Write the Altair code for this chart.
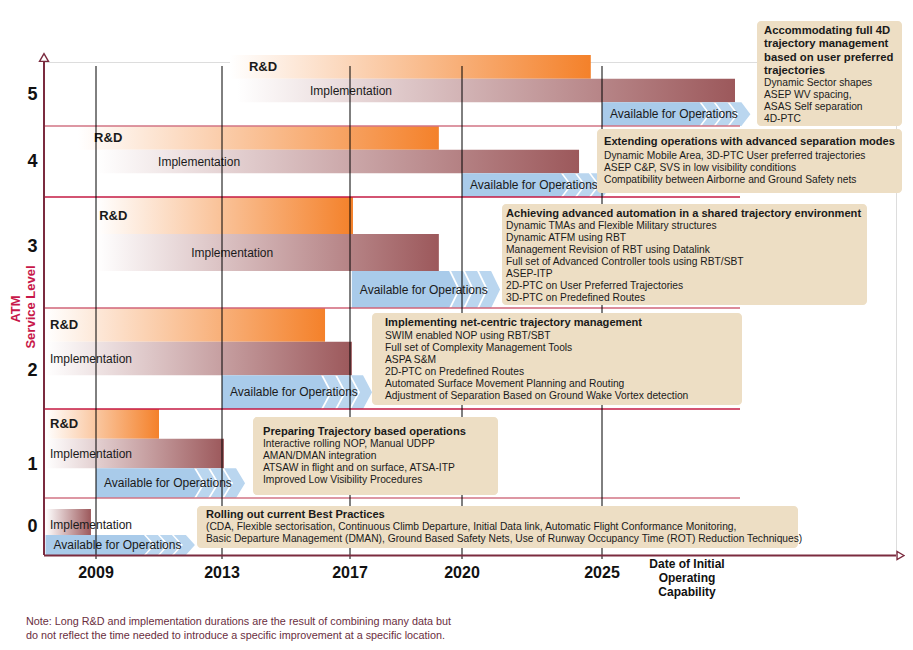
import altair as alt
import pandas as pd
import numpy as np

# ------------------------------------------------------------------ data
years = [2009, 2013, 2017, 2020, 2025]
level_labels = ["0", "1", "2", "3", "4", "5"]
y_label_at = [0, 0.876, 1.876, 3.05, 3.993, 4.937]   # where the level numbers sit

rd_level = [5, 4, 3, 2, 1]
rd_start = [2013.25, 2008.43, 2009.03, 2007.4, 2007.4]
rd_end = [2024.6, 2019.38, 2017.08, 2016.22, 2011.0]
rd_label_at = [2013.84, 2008.94, 2009.1, 2007.54, 2007.54]

impl_level = [5, 4, 3, 2, 1, 0]
impl_start = [2013.47, 2009.03, 2009.03, 2007.4, 2007.4, 2007.4]
impl_end = [2029.75, 2024.18, 2019.38, 2017.05, 2013.06, 2008.84]
impl_label_at = [2015.75, 2010.97, 2012.02, 2007.54, 2007.54, 2007.54]

avail_level = [5, 4, 3, 2, 1, 0]
avail_start = [2025.0, 2020.0, 2017.05, 2013.0, 2009.0, 2007.4]
avail_end = [2030.3, 2025.35, 2021.36, 2017.59, 2013.72, 2012.14]

box_level = [5, 4, 3, 2, 1, 0]
box_title = [
    "Accommodating full 4D\ntrajectory management\nbased on user preferred\ntrajectories",
    "Extending operations with advanced separation modes",
    "Achieving advanced automation in a shared trajectory environment",
    "Implementing net-centric trajectory management",
    "Preparing Trajectory based operations",
    "Rolling out current Best Practices",
]
box_body = [
    "Dynamic Sector shapes\nASEP WV spacing,\nASAS Self separation\n4D-PTC",
    "Dynamic Mobile Area, 3D-PTC User preferred trajectories\nASEP C&P, SVS in low visibility conditions\nCompatibility between Airborne and Ground Safety nets",
    "Dynamic TMAs and Flexible Military structures\nDynamic ATFM using RBT\nManagement Revision of RBT using Datalink\nFull set of Advanced Controller tools using  RBT/SBT\nASEP-ITP\n2D-PTC on User Preferred Trajectories\n3D-PTC on Predefined Routes",
    "SWIM enabled NOP using RBT/SBT\nFull set of Complexity Management Tools\nASPA S&M\n2D-PTC on Predefined Routes\nAutomated Surface Movement Planning and Routing\nAdjustment of Separation Based on Ground Wake Vortex detection",
    "Interactive rolling NOP, Manual UDPP\nAMAN/DMAN integration\nATSAW in flight and on surface, ATSA-ITP\nImproved Low Visibility Procedures",
    "(CDA, Flexible sectorisation, Continuous Climb Departure, Initial Data link, Automatic Flight Conformance Monitoring,\nBasic Departure Management (DMAN), Ground Based Safety Nets, Use of Runway Occupancy Time (ROT) Reduction Techniques)",
]

note_text = ("Note: Long R&D and implementation durations are the result of combining many data but\n"
             "do not reflect the time needed to introduce a specific improvement at a specific location.")

# ------------------------------------------------------------------ layout / scales
PLOT_LEFT, PLOT_TOP = 44, 62          # page position of the plot origin
X_PX = [44, 96, 222, 350, 462, 602, 896]
X_YR = [2007.35, 2009, 2013, 2017, 2020, 2025, 2035.5]
Y_PX = [555, 498, 409, 308, 197, 126, 55]
Y_LV = [-0.5, 0.5, 1.5, 2.5, 3.5, 4.5, 5.5]

W = X_PX[-1] - PLOT_LEFT
H = Y_PX[0] - PLOT_TOP

xs = alt.Scale(domain=X_YR, range=[p - PLOT_LEFT for p in X_PX], nice=False, zero=False)
ys = alt.Scale(domain=Y_LV, range=[p - PLOT_TOP for p in Y_PX], nice=False, zero=False)


def interp_ext(v, xp, fp):
    xp = list(xp); fp = list(fp)
    if xp[0] > xp[-1]:
        xp = xp[::-1]; fp = fp[::-1]
    if v <= xp[0]:
        i = 0
    elif v >= xp[-1]:
        i = len(xp) - 2
    else:
        i = int(np.searchsorted(xp, v)) - 1
    return fp[i] + (v - xp[i]) * (fp[i + 1] - fp[i]) / (xp[i + 1] - xp[i])


def year_at(px):
    return interp_ext(px, X_PX, X_YR)


def level_at(py):
    return interp_ext(py, Y_PX, Y_LV)


def px_of_level(lv):
    return interp_ext(lv, Y_LV, Y_PX)


LANES = {"rd": (0, 1 / 3), "impl": (1 / 3, 2 / 3), "avail": (2 / 3, 1.0)}
LANES0 = {"impl": (0.193, 0.649), "avail": (0.649, 1.0)}


def lanes(levels, kind):
    top, bot = [], []
    for lv in levels:
        f0, f1 = (LANES0 if lv == 0 else LANES)[kind]
        top.append(lv + 0.5 - f0)
        bot.append(lv + 0.5 - f1)
    return top, bot


P, D, G = 14, 9, 2  # chevron pitch / depth / gap in px


def chevron_path(h):
    a = h / 2
    c = P - G
    s = ""
    for k in range(3):
        t = -k * P
        s += (f"M{t-D:.1f},{-a:.1f}L{t:.1f},0L{t-D:.1f},{a:.1f}"
              f"L{t-D-c:.1f},{a:.1f}L{t-c:.1f},0L{t-D-c:.1f},{-a:.1f}Z")
    return s


def bodytip_path(h):
    a = h / 2
    t = -3 * P
    return f"M{t-D-1:.1f},{-a:.1f}L{t-D:.1f},{-a:.1f}L{t:.1f},0L{t-D:.1f},{a:.1f}L{t-D-1:.1f},{a:.1f}Z"


rd_top, rd_bot = lanes(rd_level, "rd")
rd_df = pd.DataFrame(dict(level=rd_level, start=rd_start, end=rd_end, label_at=rd_label_at,
                          top=rd_top, bottom=rd_bot))
rd_df["mid"] = (rd_df.top + rd_df.bottom) / 2

im_top, im_bot = lanes(impl_level, "impl")
im_df = pd.DataFrame(dict(level=impl_level, start=impl_start, end=impl_end, label_at=impl_label_at,
                          top=im_top, bottom=im_bot))
im_df["mid"] = (im_df.top + im_df.bottom) / 2
im_df["label_y"] = [m if lv > 0 else m - 0.06 for m, lv in zip(im_df["mid"], impl_level)]

av_top, av_bot = lanes(avail_level, "avail")
av_df = pd.DataFrame(dict(level=avail_level, start=avail_start, end=avail_end, top=av_top, bottom=av_bot))
av_df["mid"] = (av_df.top + av_df.bottom) / 2
av_h = [px_of_level(b) - px_of_level(t) for t, b in zip(av_top, av_bot)]
av_df["chev"] = [chevron_path(h) for h in av_h]
av_df["tip"] = [bodytip_path(h) for h in av_h]

# annotation boxes, laid out in page pixels and converted to data units
BOX_PX = [  # x0, x1, top, bottom, text x, title top, body top
    (757, 902, 21, 126, 764, 25, 78),
    (597, 902, 129, 193, 604, 136, 151),
    (502, 867, 204, 305, 506, 208, 221),
    (372, 742, 313, 405, 385, 317, 331),
    (253, 498, 417, 495, 263, 426, 439),
    (197, 798, 506, 548, 206, 509, 522),
]
box_df = pd.DataFrame(dict(
    level=box_level, title=box_title, body=box_body,
    x0=[year_at(b[0]) for b in BOX_PX], x1=[year_at(b[1]) for b in BOX_PX],
    top=[level_at(b[2]) for b in BOX_PX], bottom=[level_at(b[3]) for b in BOX_PX],
    tx=[year_at(b[4]) for b in BOX_PX], ty=[level_at(b[5]) for b in BOX_PX],
    by=[level_at(b[6]) for b in BOX_PX],
    tsize=[11.3, 11.1, 11.1, 11.1, 11.1, 11.1],
))

sep_df = pd.DataFrame(dict(
    y=[4.5, 3.5, 2.5, 1.5, 0.5],
    col=["#D27584", "#C41A43", "#D06479", "#C41A43", "#D27584"],
    x0=[X_YR[0]] * 5, x1=[year_at(740)] * 5,
))
yr_df = pd.DataFrame(dict(year=years, label=[str(y) for y in years]))
lv_df = pd.DataFrame(dict(at=y_label_at, label=level_labels))

# ------------------------------------------------------------------ styles
FONT = "Liberation Sans"
MAROON = "#7B2B3F"
BLUE = "#A9CBEA"
BLUE_L = "#BAD6EF"
TAN = "#EDDEC4"
TXT = "#1a1a1a"
RD_GRAD = {"gradient": "linear", "x1": 0, "y1": 0, "x2": 1, "y2": 0,
           "stops": [{"offset": 0, "color": "#ffffff"}, {"offset": 1, "color": "#F4812A"}]}
IM_GRAD = {"gradient": "linear", "x1": 0, "y1": 0, "x2": 1, "y2": 0,
           "stops": [{"offset": 0, "color": "#ffffff"}, {"offset": 1, "color": "#9C585B"}]}


def X(f):
    return alt.X(f, scale=xs, axis=None)


def Y(f):
    return alt.Y(f, scale=ys, axis=None)


rd = alt.Chart(rd_df).mark_rect(fill=RD_GRAD).encode(
    x=X("start:Q"), x2="end:Q", y=Y("top:Q"), y2="bottom:Q")
im = alt.Chart(im_df).mark_rect(fill=IM_GRAD).encode(
    x=X("start:Q"), x2="end:Q", y=Y("top:Q"), y2="bottom:Q")
av = alt.Chart(av_df).mark_rect(color=BLUE, x2Offset=-(3 * P + D)).encode(
    x=X("start:Q"), x2="end:Q", y=Y("top:Q"), y2="bottom:Q")
av_tip = alt.Chart(av_df).mark_point(filled=True, opacity=1, size=4, strokeWidth=0).encode(
    x=X("end:Q"), y=Y("mid:Q"), shape=alt.Shape("tip:N", scale=None, legend=None),
    color=alt.value(BLUE))
av_chev = alt.Chart(av_df).mark_point(filled=True, opacity=1, size=4, strokeWidth=0).encode(
    x=X("end:Q"), y=Y("mid:Q"), shape=alt.Shape("chev:N", scale=None, legend=None),
    color=alt.value(BLUE_L))

rd_lab = alt.Chart(rd_df).mark_text(align="left", baseline="middle", fontSize=13, fontWeight="bold",
                                    color=TXT, font=FONT).encode(
    x=X("label_at:Q"), y=Y("mid:Q"), text=alt.value("R&D"))
im_lab = alt.Chart(im_df).mark_text(align="left", baseline="middle", fontSize=12, color=TXT,
                                    font=FONT).encode(
    x=X("label_at:Q"), y=Y("label_y:Q"), text=alt.value("Implementation"))
av_lab = alt.Chart(av_df).mark_text(align="left", baseline="middle", fontSize=12, color=TXT,
                                    font=FONT, dx=8).encode(
    x=X("start:Q"), y=Y("mid:Q"), text=alt.value("Available for Operations"))

seps = alt.Chart(sep_df).mark_rule(strokeWidth=1.6).encode(
    x=X("x0:Q"), x2="x1:Q", y=Y("y:Q"), color=alt.Color("col:N", scale=None, legend=None))
yr_lines = alt.Chart(yr_df).mark_rule(color="#000000", strokeWidth=1).encode(
    x=X("year:Q"), y=alt.value(66 - PLOT_TOP), y2=alt.value(559 - PLOT_TOP))

boxes = alt.Chart(box_df).mark_rect(color=TAN, cornerRadius=4).encode(
    x=X("x0:Q"), x2="x1:Q", y=Y("top:Q"), y2="bottom:Q")
box_t = alt.Chart(box_df).mark_text(align="left", baseline="top", fontWeight="bold", lineHeight=13.3,
                                    lineBreak="\n", color=TXT, font=FONT).encode(
    x=X("tx:Q"), y=Y("ty:Q"), text="title:N", size=alt.Size("tsize:Q", scale=None, legend=None))
box_b = alt.Chart(box_df).mark_text(align="left", baseline="top", fontSize=10.25, lineHeight=12,
                                    lineBreak="\n", color=TXT, font=FONT).encode(
    x=X("tx:Q"), y=Y("by:Q"), text="body:N")

# axes: lines, arrows and labels
one = pd.DataFrame(dict(k=[0]))
y_axis_line = alt.Chart(one).mark_rule(color=MAROON, strokeWidth=2).encode(
    x=alt.value(0), y=alt.value(0), y2=alt.value(H))
x_axis_line = alt.Chart(one).mark_rule(color=MAROON, strokeWidth=2).encode(
    x=alt.value(0), x2=alt.value(W), y=alt.value(H + 0.5))
up_arrow = alt.Chart(one).mark_point(shape="triangle-up", filled=False, size=80, color=MAROON,
                                     strokeWidth=1.4, opacity=1).encode(
    x=alt.value(0), y=alt.value(57.5 - PLOT_TOP))
right_arrow = alt.Chart(one).mark_point(shape="triangle-right", filled=False, size=64,
                                        color=MAROON, strokeWidth=1.4, opacity=1).encode(
    x=alt.value(900.5 - PLOT_LEFT), y=alt.value(555.5 - PLOT_TOP))
yr_labels = alt.Chart(yr_df).mark_text(align="center", baseline="top", fontSize=16, fontWeight="bold",
                                       color="#111", font=FONT).encode(
    x=X("year:Q"), y=alt.value(565 - PLOT_TOP), text="label:N")
lv_labels = alt.Chart(lv_df).mark_text(align="center", baseline="middle", fontSize=18, fontWeight="bold",
                                       color="#111", font=FONT).encode(
    x=alt.value(32.5 - PLOT_LEFT), y=Y("at:Q"), text="label:N")

title_style = dict(angle=270, align="center", baseline="middle", fontSize=13, fontWeight="bold",
                   color="#C8174A", font=FONT)
y_title1 = alt.Chart(one).mark_text(**title_style).encode(
    x=alt.value(15.5 - PLOT_LEFT), y=alt.value(309 - PLOT_TOP), text=alt.value("ATM"))
y_title2 = alt.Chart(one).mark_text(**title_style).encode(
    x=alt.value(30.5 - PLOT_LEFT), y=alt.value(307 - PLOT_TOP), text=alt.value("Service Level"))
x_title = alt.Chart(one).mark_text(align="center", baseline="top", fontSize=12, fontWeight="bold",
                                   lineHeight=14, lineBreak="\n", color="#111", font=FONT).encode(
    x=alt.value(687 - PLOT_LEFT), y=alt.value(559 - PLOT_TOP),
    text=alt.value("Date of Initial\nOperating\nCapability"))
note = alt.Chart(one).mark_text(align="left", baseline="top", fontSize=10.8, lineHeight=13.5,
                                lineBreak="\n", color="#6A2E3E", font=FONT).encode(
    x=alt.value(26 - PLOT_LEFT), y=alt.value(616 - PLOT_TOP), text=alt.value(note_text))

chart = alt.layer(
    rd, im, av, av_tip, av_chev, rd_lab, im_lab, av_lab, seps, yr_lines,
    boxes, box_t, box_b, y_axis_line, x_axis_line, up_arrow, right_arrow,
    yr_labels, lv_labels, y_title1, y_title2, x_title, note,
).properties(
    width=W, height=H,
    autosize=alt.AutoSizeParams(type="none"),
    padding={"left": PLOT_LEFT - 8, "top": PLOT_TOP - 8, "right": 9, "bottom": 86},
    background="white",
).configure_view(stroke=None).configure(font=FONT)

chart.save("out.html", embed_options={"renderer": "svg", "actions": False})
